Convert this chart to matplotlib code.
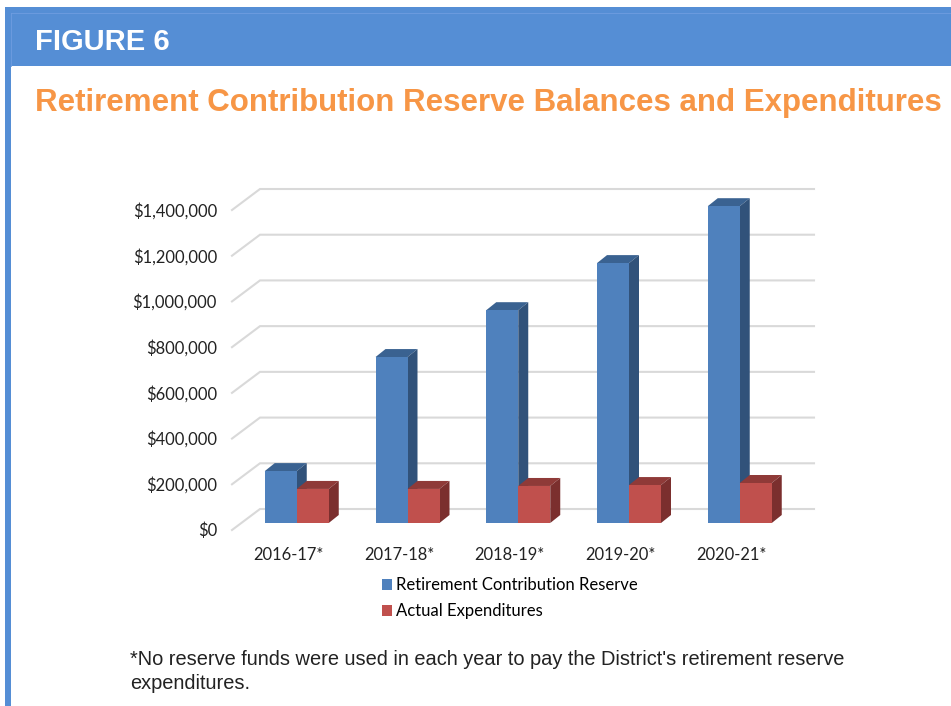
"""Figure 6: retirement reserve balances vs expenditures, as a fake-3D bar chart."""

import matplotlib.pyplot as plt
from matplotlib.patches import Polygon, Rectangle
from matplotlib.ticker import FuncFormatter
from matplotlib.transforms import ScaledTranslation

YEARS = ["2016-17*", "2017-18*", "2018-19*", "2019-20*", "2020-21*"]
RESERVE = [227000, 726000, 931000, 1137000, 1386000]
EXPENDITURES = [149000, 149000, 162000, 166000, 175000]
TICKS = [0, 200000, 400000, 600000, 800000, 1000000, 1200000, 1400000]

W, H = 951, 706
BLUE = ("#4f81bd", "#3a6291", "#31527a")  # front, top, side
RED = ("#c0504d", "#8f3a38", "#7b2f2e")
PX_PER_CAT = 110.75
PX_PER_VAL = 320 / 1400000
X0_PX, Y0_PX = 296.75, 523  # first category centre, front baseline of the bars

fig = plt.figure(figsize=(W / 100, H / 100), dpi=100)

# page furniture in pixel coordinates
bg = fig.add_axes([0, 0, 1, 1])
bg.set_xlim(0, W)
bg.set_ylim(H, 0)
bg.axis("off")
bg.add_patch(Rectangle((5, 7), W - 5, 59, color="#558ed5", lw=0))
bg.add_patch(Rectangle((5, 7), 5.5, H - 7, color="#558ed5", lw=0))
bg.plot([10.5, W], [12.5, 12.5], color="#6f9de0", lw=0.6)
bg.plot([10.5, 10.5], [12.5, 66], color="#6f9de0", lw=0.6)
bg.text(35, 50, "FIGURE 6", family="Liberation Sans", weight="bold", size=21,
        color="white", va="baseline")
bg.text(35, 111, "Retirement Contribution Reserve Balances and Expenditures",
        family="Liberation Sans", weight="bold", size=22.5, color="#f79646", va="baseline")
bg.text(130, 665, "*No reserve funds were used in each year to pay the District's retirement reserve",
        family="Liberation Sans", size=14.4, color="#222222", va="baseline")
bg.text(130, 689, "expenditures.", family="Liberation Sans", size=14.4, color="#222222", va="baseline")

# chart axes: x in category units, y in dollars
left, right, top, bottom = 130, 830, 175, 545
ax = fig.add_axes([left / W, 1 - bottom / H, (right - left) / W, (bottom - top) / H])
ax.set_xlim((left - X0_PX) / PX_PER_CAT, (right - X0_PX) / PX_PER_CAT)
ax.set_ylim((Y0_PX - bottom) / PX_PER_VAL, (Y0_PX - top) / PX_PER_VAL)
ax.patch.set_alpha(0)
for s in ax.spines.values():
    s.set_visible(False)

bar_w = 32 / PX_PER_CAT
dx = 10 / PX_PER_CAT
dy = 8 / PX_PER_VAL

# walls: floor-to-back gridlines
x_front = (232 - X0_PX) / PX_PER_CAT
x_back = (260 - X0_PX) / PX_PER_CAT
x_end = (814 - X0_PX) / PX_PER_CAT
y_front = -7 / PX_PER_VAL
y_back = 14 / PX_PER_VAL
for t in TICKS:
    ax.plot([x_front, x_back, x_end], [t + y_front, t + y_back, t + y_back],
            color="#d9d9d9", lw=1.5, zorder=1, solid_joinstyle="miter")


def draw_bars(xs, values, colors, z):
    bars = ax.bar(xs, values, bar_w, color=colors[0], lw=0, zorder=z + 1)
    for x, v in zip(xs, values):
        l, r = x - bar_w / 2, x + bar_w / 2
        ax.add_patch(Polygon([(l, v), (r, v), (r + dx, v + dy), (l + dx, v + dy)],
                             color=colors[1], lw=0, zorder=z))
        ax.add_patch(Polygon([(r, 0), (r + dx, dy), (r + dx, v + dy), (r, v)],
                             color=colors[2], lw=0, zorder=z))
    return bars


pos = range(len(YEARS))
b1 = draw_bars([i - bar_w / 2 for i in pos], RESERVE, BLUE, 2)
b2 = draw_bars([i + bar_w / 2 for i in pos], EXPENDITURES, RED, 4)

ax.set_xticks(list(pos))
ax.set_xticklabels(YEARS)
ax.set_yticks(TICKS)
ax.yaxis.set_major_formatter(FuncFormatter(lambda v, _: f"${v:,.0f}"))
ax.tick_params(length=0, labelcolor="#222222")
ax.tick_params(axis="y", pad=-62.6)
ax.tick_params(axis="x", pad=1.2)
for lab in ax.get_xticklabels() + ax.get_yticklabels():
    lab.set_family("Lato")
    lab.set_size(11.9)
# labels sit off the bar centres / front baseline in the original
for tick in ax.xaxis.get_major_ticks():
    tick.label1.set_transform(tick.label1.get_transform()
                              + ScaledTranslation(-8.5 / 100, 0, fig.dpi_scale_trans))
for tick in ax.yaxis.get_major_ticks():
    tick.label1.set_transform(tick.label1.get_transform()
                              + ScaledTranslation(0, -6.5 / 100, fig.dpi_scale_trans))

ax.legend([b1, b2], ["Retirement Contribution Reserve", "Actual Expenditures"],
          loc="upper left", bbox_to_anchor=(366.5 / W, 1 - 562 / H),
          bbox_transform=fig.transFigure, frameon=False, prop={"family": "Lato", "size": 12},
          handlelength=0.65, handleheight=0.65, handletextpad=0.25, labelspacing=0.6)

fig.savefig("out.png", dpi=100)
